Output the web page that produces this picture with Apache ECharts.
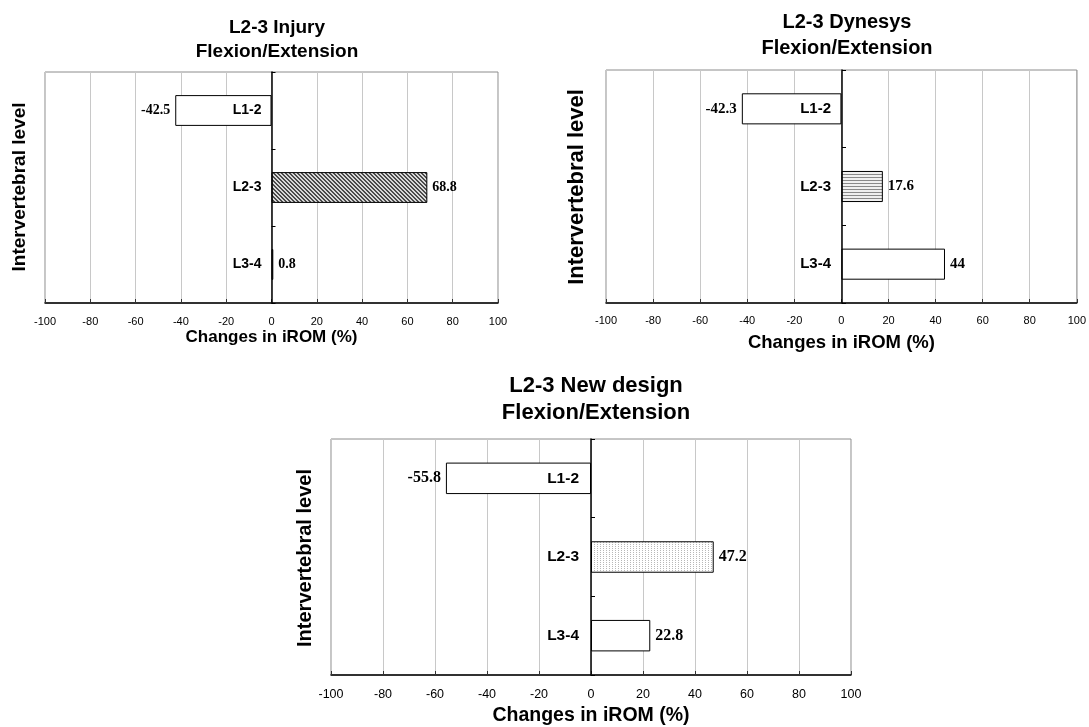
<!DOCTYPE html>
<html><head><meta charset="utf-8">
<script src="https://cdn.jsdelivr.net/npm/echarts@6/dist/echarts.min.js"></script>
<style>html,body{margin:0;padding:0;background:#fff}#c{width:1089px;height:727px}</style>
</head><body><div id="c"></div>
<script>
// ---- data ----
const categories = ['L1-2', 'L2-3', 'L3-4'];
const injuryValues = [-42.5, 68.8, 0.8];
const dynesysValues = [-42.3, 17.6, 44];
const newDesignValues = [-55.8, 47.2, 22.8];
const panelTitles = ['L2-3 Injury\nFlexion/Extension', 'L2-3 Dynesys\nFlexion/Extension', 'L2-3 New design\nFlexion/Extension'];
const xAxisName = 'Changes in iROM (%)';
const yAxisName = 'Intervertebral level';
const xMin = -100, xMax = 100, xStep = 20;
const highlightCategory = 'L2-3';

// ---- patterns ----
function makePattern(w, h, bg, fg, test) {
  const c = document.createElement('canvas');
  c.width = w; c.height = h;
  const ctx = c.getContext('2d');
  ctx.fillStyle = bg; ctx.fillRect(0, 0, w, h);
  ctx.fillStyle = fg;
  for (let y = 0; y < h; y++) for (let x = 0; x < w; x++) if (test(x, y)) ctx.fillRect(x, y, 1, 1);
  return { image: c, repeat: 'repeat' };
}
const patDiag = makePattern(4, 4, '#d8d8d8', '#4a4a4a', (x, y) => ((x - y + 8) % 4) < 2);
const patHoriz = makePattern(3, 3, '#f0f0f0', '#8a8a8a', (x, y) => y === 0);
const patDots = makePattern(3, 2, '#ffffff', '#b8b8b8', (x, y) => x === 0 && y === 0);

const FONT = 'Arial, "Liberation Sans", sans-serif';
const SERIF = '"Times New Roman", "Liberation Serif", serif';

const panels = [
  { values: injuryValues, pattern: patDiag,
    grid: { left: 45, top: 72, width: 453, height: 231 },
    title: { x: 272, top: 11, size: 19, lh: 24 },
    tick: 11, tickMargin: 13, name: 17, nameGap: 26, cat: 14, catMargin: 10, val: 14,
    yName: { x: 20, y: 187, size: 19 } },
  { values: dynesysValues, pattern: patHoriz,
    grid: { left: 606, top: 70, width: 472, height: 233 },
    title: { x: 842, top: 4, size: 20, lh: 26 },
    tick: 11, tickMargin: 12, name: 18.5, nameGap: 30, cat: 15, catMargin: 11, val: 15,
    yName: { x: 577, y: 187, size: 22 } },
  { values: newDesignValues, pattern: patDots,
    grid: { left: 331, top: 439, width: 520, height: 237 },
    title: { x: 591, top: 367, size: 22, lh: 27 },
    tick: 12.5, tickMargin: 13, name: 19.5, nameGap: 31, cat: 15.5, catMargin: 12, val: 16,
    yName: { x: 305, y: 558, size: 20 } }
];

const option = {
  animation: false,
  backgroundColor: '#fff',
  title: [], grid: [], xAxis: [], yAxis: [], series: [], graphic: []
};

panels.forEach((p, i) => {
  const zeroOffset = -p.grid.width * (0 - xMin) / (xMax - xMin);
  option.title.push({
    text: panelTitles[i], left: p.title.x, top: p.title.top, textAlign: 'center',
    textStyle: { fontFamily: FONT, fontWeight: 'bold', fontSize: p.title.size, lineHeight: p.title.lh, color: '#000' }
  });
  option.grid.push(Object.assign({ show: true, borderColor: '#8c8c8c', borderWidth: 1, backgroundColor: 'transparent' }, p.grid));
  option.xAxis.push({
    type: 'value', gridIndex: i, min: xMin, max: xMax, interval: xStep,
    name: xAxisName, nameLocation: 'middle', nameGap: p.nameGap,
    nameTextStyle: { fontFamily: FONT, fontWeight: 'bold', fontSize: p.name, color: '#000' },
    axisLine: { show: true, lineStyle: { color: '#000', width: 1.5 } },
    axisTick: { show: true, inside: true, length: 4, lineStyle: { color: '#333' } },
    axisLabel: { fontFamily: FONT, fontSize: p.tick, color: '#000', margin: p.tickMargin, showMinLabel: true, showMaxLabel: true },
    splitLine: { show: true, lineStyle: { color: '#c8c8c8', width: 1 } }
  });
  option.yAxis.push({
    type: 'category', gridIndex: i, data: categories, inverse: true, z: 10,
    position: 'left', offset: zeroOffset,
    axisLine: { show: true, onZero: false, lineStyle: { color: '#000', width: 1.5 } },
    axisTick: { show: true, inside: true, length: 4, lineStyle: { color: '#000' } },
    axisLabel: { fontFamily: FONT, fontWeight: 'bold', fontSize: p.cat, color: '#000', margin: p.catMargin,
                 interval: 0, showMinLabel: true, showMaxLabel: true, hideOverlap: false },
    splitLine: { show: false }
  });
  option.series.push({
    type: 'bar', xAxisIndex: i, yAxisIndex: i, barWidth: '40%',
    data: p.values.map((v, k) => ({
      value: v,
      itemStyle: { color: categories[k] === highlightCategory ? p.pattern : '#ffffff', borderColor: '#000', borderWidth: 1 },
      label: { position: v < 0 ? 'left' : 'right' }
    })),
    label: {
      show: true, distance: 5, formatter: d => String(d.value),
      fontFamily: SERIF, fontWeight: 'bold', fontSize: p.val, color: '#000'
    }
  });
  option.graphic.push({
    type: 'text', x: p.yName.x, y: p.yName.y, rotation: Math.PI / 2,
    style: { text: yAxisName, fontFamily: FONT, fontWeight: 'bold', fontSize: p.yName.size, fill: '#000', align: 'center', verticalAlign: 'middle' }
  });
});

const chart = echarts.init(document.getElementById('c'), null, { renderer: 'canvas' });
chart.setOption(option);
</script>
</body></html>
